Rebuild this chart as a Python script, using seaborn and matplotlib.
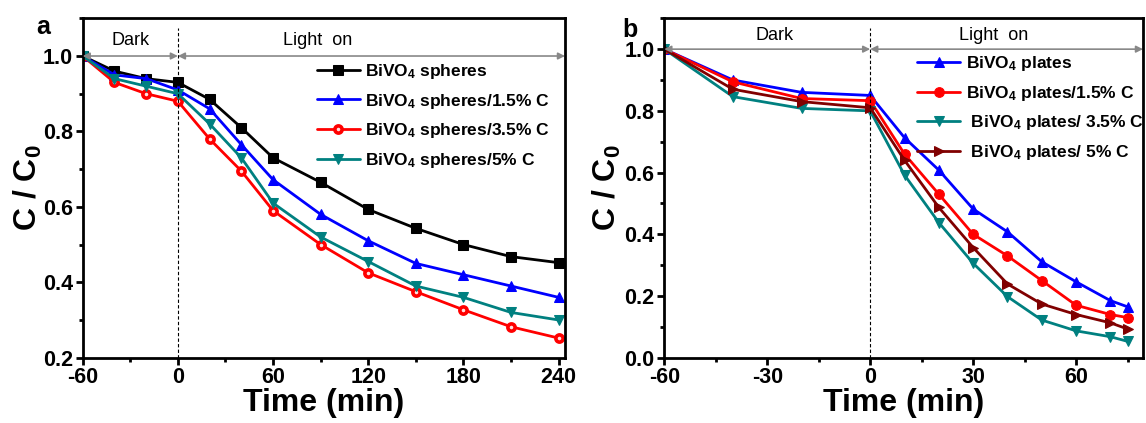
import numpy as np
import pandas as pd
import matplotlib
matplotlib.use("Agg")
import matplotlib.pyplot as plt
import seaborn as sns
from matplotlib.ticker import MultipleLocator, FormatStrFormatter

# ---------------- data ----------------
time_a = [-60, -40, -20, 0, 20, 40, 60, 90, 120, 150, 180, 210, 240]
spheres = [1.0, 0.96, 0.94, 0.93, 0.885, 0.81, 0.73, 0.665, 0.593, 0.543, 0.50, 0.468, 0.452]
spheres_15 = [1.0, 0.95, 0.94, 0.91, 0.86, 0.765, 0.672, 0.58, 0.51, 0.45, 0.42, 0.39, 0.36]
spheres_35 = [1.0, 0.93, 0.90, 0.88, 0.78, 0.695, 0.59, 0.50, 0.425, 0.375, 0.327, 0.282, 0.252]
spheres_5 = [1.0, 0.94, 0.92, 0.90, 0.82, 0.73, 0.61, 0.52, 0.455, 0.39, 0.36, 0.32, 0.30]
labels_a = ["BiVO$_\\mathbf{4}$ spheres", "BiVO$_\\mathbf{4}$ spheres/1.5% C",
            "BiVO$_\\mathbf{4}$ spheres/3.5% C", "BiVO$_\\mathbf{4}$ spheres/5% C"]

time_b = [-60, -40, -20, 0, 10, 20, 30, 40, 50, 60, 70, 75]
plates = [1.0, 0.90, 0.86, 0.85, 0.713, 0.608, 0.482, 0.408, 0.311, 0.246, 0.185, 0.165]
plates_15 = [1.0, 0.894, 0.84, 0.833, 0.66, 0.53, 0.40, 0.33, 0.25, 0.17, 0.14, 0.13]
plates_35 = [1.0, 0.846, 0.808, 0.80, 0.592, 0.438, 0.306, 0.198, 0.122, 0.087, 0.068, 0.053]
plates_5 = [1.0, 0.87, 0.83, 0.81, 0.64, 0.487, 0.357, 0.239, 0.174, 0.14, 0.113, 0.093]
labels_b = ["BiVO$_\\mathbf{4}$ plates", "BiVO$_\\mathbf{4}$ plates/1.5% C",
            " BiVO$_\\mathbf{4}$ plates/ 3.5% C", " BiVO$_\\mathbf{4}$ plates/ 5% C"]

# ---------------- style ----------------
sns.set_theme(style="ticks")
plt.rcParams["font.family"] = ["Liberation Sans", "DejaVu Sans"]
plt.rcParams["mathtext.fontset"] = "custom"
plt.rcParams["mathtext.rm"] = "Liberation Sans"
plt.rcParams["mathtext.bf"] = "Liberation Sans:bold"
plt.rcParams["mathtext.it"] = "Liberation Sans:italic"
plt.rcParams["axes.unicode_minus"] = False
for k in ["text.color", "axes.labelcolor", "xtick.color", "ytick.color", "axes.edgecolor"]:
    plt.rcParams[k] = "black"

W, H = 1146, 423
fig = plt.figure(figsize=(W / 100, H / 100), dpi=100)


def px_axes(l, r, t, b):
    return fig.add_axes([l / W, 1 - b / H, (r - l) / W, (b - t) / H])


ax_a = px_axes(82.7, 565, 18.3, 357.7)
ax_b = px_axes(664.3, 1143, 18.3, 357.7)

BLUE, RED, TEAL, DRED = "#0000ff", "#ff0000", "#008080", "#800000"

df_a = pd.DataFrame({"t": time_a, "s0": spheres, "s1": spheres_15, "s2": spheres_35, "s3": spheres_5})
df_b = pd.DataFrame({"t": time_b, "p0": plates, "p1": plates_15, "p2": plates_35, "p3": plates_5})

styles_a = [
    ("s0", "black", "s", {}),
    ("s1", BLUE, "^", {}),
    ("s2", RED, "o", {"markerfacecolor": "#ffe0e0", "markeredgecolor": RED,
                      "markeredgewidth": 2.6, "markersize": 5.2}),
    ("s3", TEAL, "v", {}),
]
for (col, c, m, extra), lab in zip(styles_a, labels_a):
    kw = dict(markersize=7, markeredgecolor=c, markerfacecolor=c)
    kw.update(extra)
    sns.lineplot(data=df_a, x="t", y=col, ax=ax_a, color=c, marker=m, linewidth=2,
                 label=lab, **kw)

styles_b = [
    ("p0", BLUE, "^"),
    ("p1", RED, "o"),
    ("p2", TEAL, "v"),
    ("p3", DRED, ">"),
]
for (col, c, m), lab in zip(styles_b, labels_b):
    sns.lineplot(data=df_b, x="t", y=col, ax=ax_b, color=c, marker=m, linewidth=2,
                 markersize=7, markeredgecolor=c, markerfacecolor=c, label=lab)


def finish(ax, xlim, ylim, xmaj, xmin, ymaj, ymin, letter, letter_xy, leg_xy,
           dark_x, light_x, txt_y, ylpad):
    ax.set_xlim(*xlim)
    ax.set_ylim(*ylim)
    ax.xaxis.set_major_locator(MultipleLocator(xmaj))
    ax.xaxis.set_minor_locator(MultipleLocator(xmin))
    ax.yaxis.set_major_locator(MultipleLocator(ymaj))
    ax.yaxis.set_minor_locator(MultipleLocator(ymin))
    ax.yaxis.set_major_formatter(FormatStrFormatter("%.1f"))
    ax.tick_params(axis="both", which="major", direction="out", length=5, width=2,
                   labelsize=15.5, color="black", labelcolor="black", pad=2)
    ax.tick_params(axis="both", which="minor", direction="out", length=3, width=2, color="black")
    for lab in ax.get_xticklabels() + ax.get_yticklabels():
        lab.set_fontweight("bold")
    for sp in ax.spines.values():
        sp.set_visible(True)
        sp.set_linewidth(2)
        sp.set_color("black")
    ax.set_xlabel("Time (min)", fontsize=23, fontweight="bold", labelpad=0)
    ax.set_ylabel("C / C$_\\mathbf{0}$", fontsize=23, fontweight="bold", labelpad=ylpad)
    ax.grid(False)
    # dashed divider
    ax.axvline(0, ymin=0, ymax=0.97, color="black", lw=0.8, ls=(0, (3, 2)))
    # arrows
    ap = dict(arrowstyle="<|-|>", color="#888888", lw=1.2, shrinkA=0, shrinkB=0,
              mutation_scale=10)
    ax.annotate("", xy=(xlim[0], 1.0), xytext=(0, 1.0), arrowprops=ap)
    ax.annotate("", xy=(0, 1.0), xytext=(xlim[1], 1.0), arrowprops=ap)
    ax.text(dark_x, txt_y, "Dark", fontsize=13, ha="center", va="center")
    ax.text(light_x, txt_y, "Light  on", fontsize=13, ha="center", va="center")
    ax.legend(loc="upper left", bbox_to_anchor=leg_xy, frameon=False,
              prop={"weight": "bold", "size": 12.5}, handlelength=2.5,
              handletextpad=0.3, labelspacing=0.62, borderpad=0, borderaxespad=0)
    ax.text(letter_xy[0], letter_xy[1], letter, transform=ax.transAxes, fontsize=18,
            fontweight="bold", ha="center", va="center")


finish(ax_a, (-60, 244), (0.2, 1.1), 60, 30, 0.2, 0.1, "a", (-0.082, 0.975),
       (0.485, 0.872), -30, 88, 1.04, -1)
finish(ax_b, (-60, 79.5), (0.0, 1.1), 30, 15, 0.2, 0.1, "b", (-0.072, 0.965),
       (0.528, 0.895), -28, 36, 1.045, 1)

fig.savefig("out.png", dpi=100)
